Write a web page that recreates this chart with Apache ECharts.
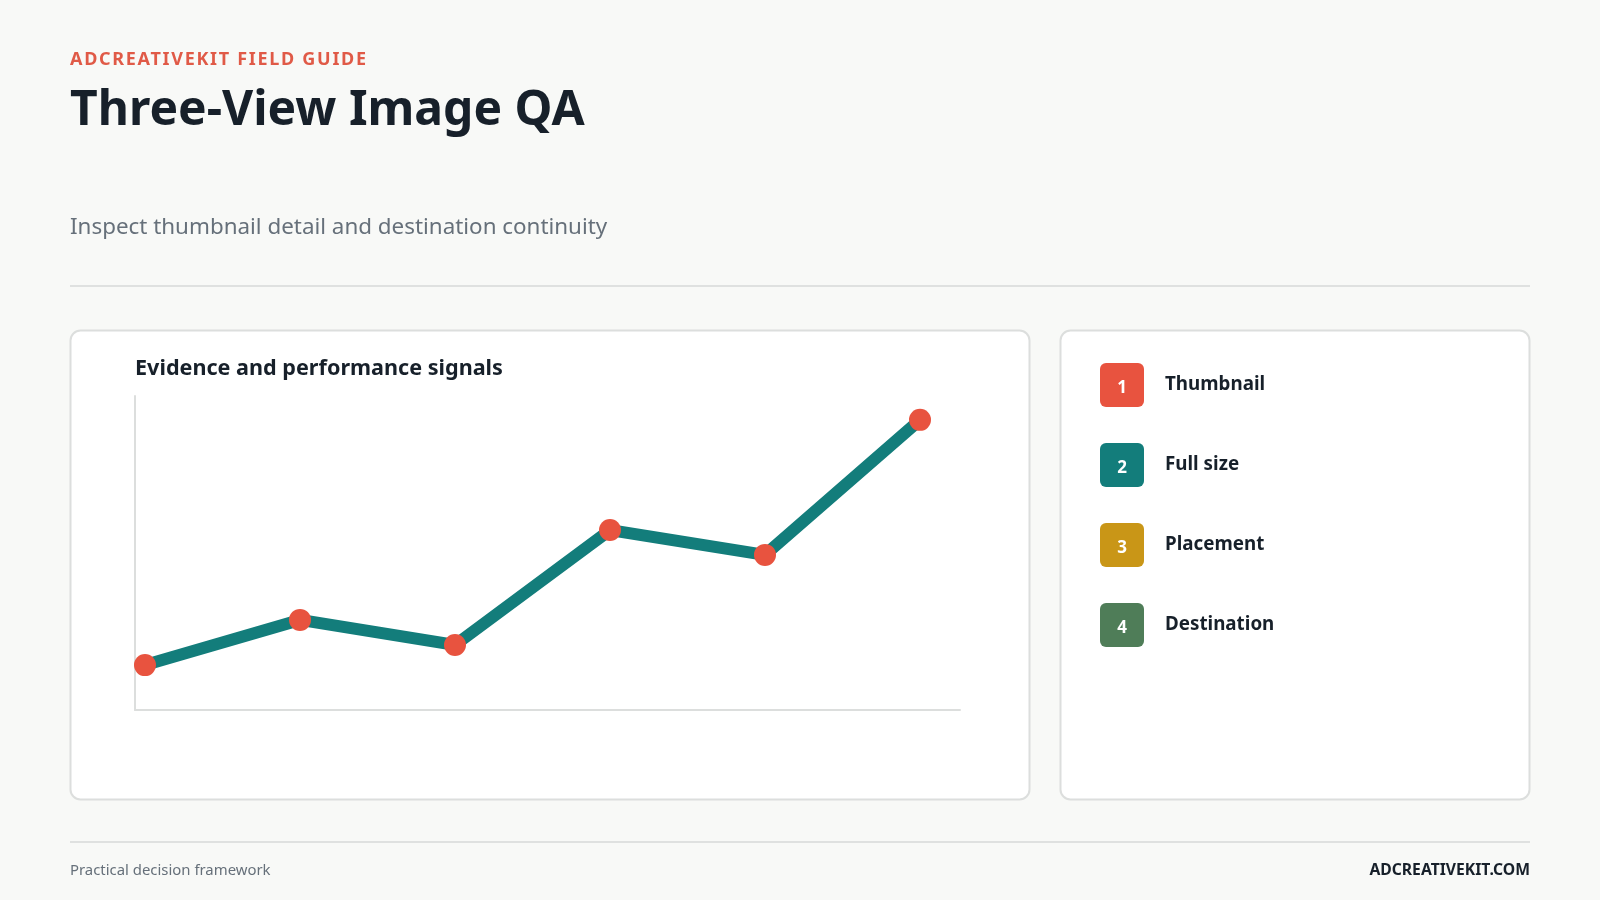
<!DOCTYPE html>
<html><head><meta charset="utf-8">
<style>html,body{margin:0;padding:0;background:#f8f9f7}#c{width:1600px;height:900px;position:absolute;left:0;top:0}
#eb{position:absolute;left:70px;top:45px;font:700 18px/26px "Noto Sans";letter-spacing:1.7px;color:#e05a47;white-space:nowrap}</style>
<script src="https://cdn.jsdelivr.net/npm/echarts@6/dist/echarts.min.js"></script></head>
<body><div id="c"></div><div id="eb"></div>
<script>
const eyebrow='ADCREATIVEKIT FIELD GUIDE';
const title='Three-View Image QA';
const subtitle='Inspect thumbnail detail and destination continuity';
const chartTitle='Evidence and performance signals';
const footerLeft='Practical decision framework';
const footerRight='ADCREATIVEKIT.COM';
const steps=['Thumbnail','Full size','Placement','Destination'];
const stepColors=['#e8533f','#137d7b','#c99617','#4f7d58'];
const xIndex=[0,1,2,3,4,5];
const values=[14.3,28.7,20.7,57.3,49.4,92.4];
document.getElementById('eb').textContent=eyebrow;
const F='"Noto Sans"';
const txt=(x,y,t,size,weight,fill,align)=>({type:'text',x,y,silent:true,style:{text:t,font:`${weight} ${size}px ${F}`,fill,textAlign:align||'left',textVerticalAlign:'middle'}});
const card=(x,y,w,h)=>({type:'rect',shape:{x:x+0.5,y:y+0.5,width:w-1,height:h-1,r:10},style:{fill:'#fff',stroke:'#dcdedd',lineWidth:2},silent:true});
const rule=(y)=>({type:'rect',shape:{x:70,y:y,width:1460,height:2},style:{fill:'#dfe1e0'},silent:true});
const g=[
 rule(285),rule(841),card(70,330,960,470),card(1060,330,470,470),
 txt(70,111,title,48,700,'#17202a'),
 txt(70,228,subtitle,22.4,400,'#66707a'),
 txt(135,369,chartTitle,21.6,700,'#17202a'),
 txt(70,870.5,footerLeft,14.9,400,'#66707a'),
 txt(1530,870.5,footerRight,15.7,700,'#17202a','right')
];
steps.forEach((s,i)=>{
 const y=363+i*80;
 g.push({type:'rect',shape:{x:1100,y,width:44,height:44,r:6},style:{fill:stepColors[i]},silent:true});
 g.push(txt(1122,y+25,String(i+1),17,700,'#fff','center'));
 g.push(txt(1165,y+21.5,s,18.8,700,'#17202a'));
});
const chart=echarts.init(document.getElementById('c'),null,{renderer:'canvas'});
chart.setOption({
 animation:false,backgroundColor:'#f8f9f7',
 graphic:{elements:g},
 grid:{left:135,top:396,width:825,height:314,containLabel:false},
 xAxis:{type:'value',min:-10/155,max:815/155,axisLine:{show:true,onZero:false,lineStyle:{color:'#dcdedd',width:2}},axisTick:{show:false},axisLabel:{show:false},splitLine:{show:false}},
 yAxis:{type:'value',min:0,max:100,axisLine:{show:true,onZero:false,lineStyle:{color:'#dcdedd',width:2}},axisTick:{show:false},axisLabel:{show:false},splitLine:{show:false}},
 series:[{type:'line',z:5,data:xIndex.map((x,i)=>[x,values[i]]),lineStyle:{color:'#137d7b',width:12,cap:'butt',join:'miter'},symbol:'circle',symbolSize:22,showSymbol:true,itemStyle:{color:'#e8533f',borderWidth:0}}]
});
</script></body></html>
